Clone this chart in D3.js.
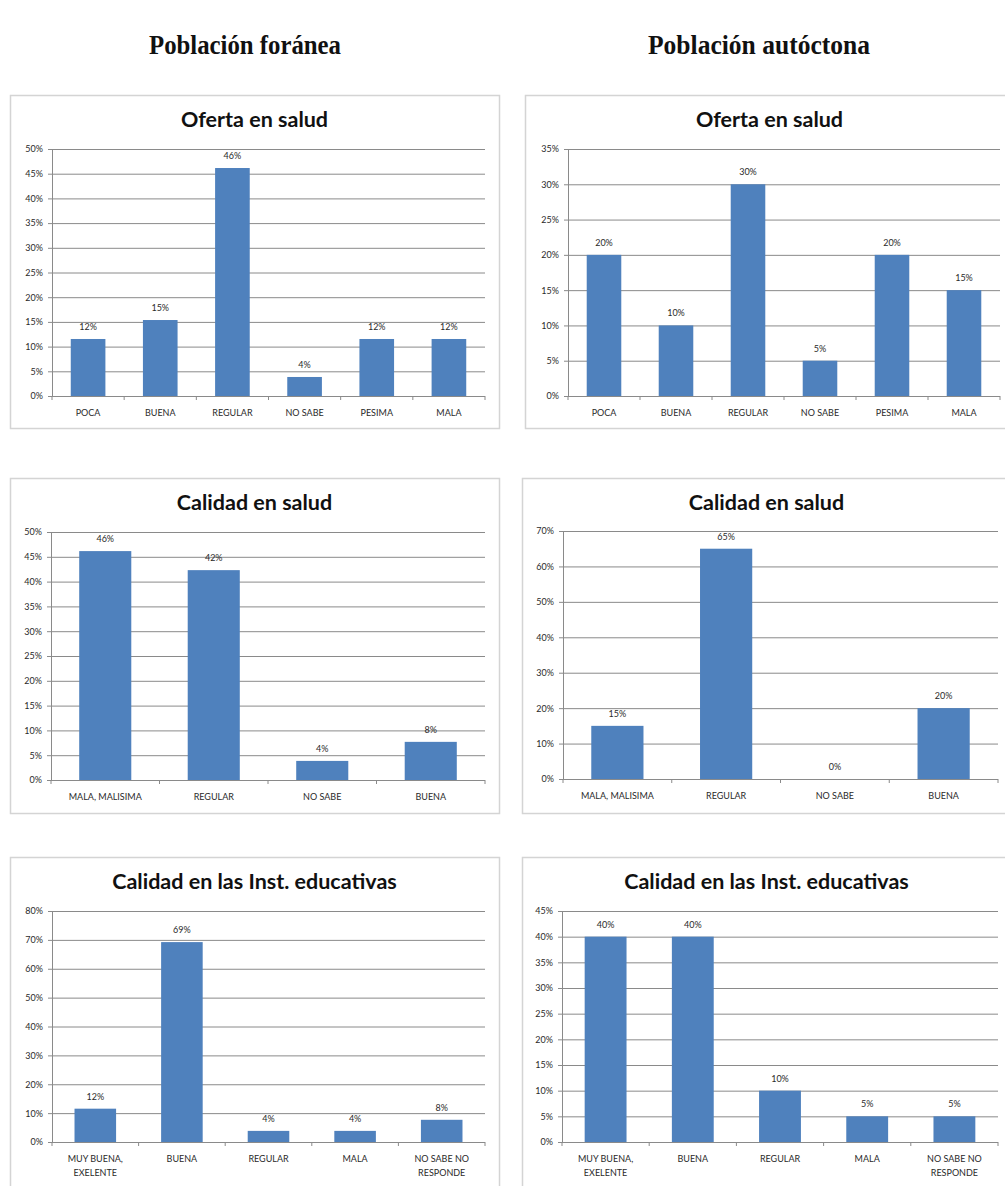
<!DOCTYPE html>
<html>
<head>
<meta charset="utf-8">
<script src="https://cdn.jsdelivr.net/npm/d3@7"></script>
<style>
  body { margin: 0; background: #fff; }
  svg { display: block; }
  .tick text { font-family: Lato, "Open Sans", sans-serif; }
</style>
</head>
<body>
<svg id="chart" width="1005" height="1186"></svg>
<script>
'use strict'

// column headers
var headers = ['Población foránea', 'Población autóctona']

// oferta en salud
var ofertaCats = ['POCA', 'BUENA', 'REGULAR', 'NO SABE', 'PESIMA', 'MALA']
var ofertaForanea = [11.54, 15.38, 46.15, 3.85, 11.54, 11.54]
var ofertaAutoctona = [20, 10, 30, 5, 20, 15]

// calidad en salud
var saludCats = ['MALA, MALISIMA', 'REGULAR', 'NO SABE', 'BUENA']
var saludForanea = [46.15, 42.31, 3.85, 7.69]
var saludAutoctona = [15, 65, 0, 20]

// calidad en las inst. educativas
var eduCats = ['MUY BUENA,\nEXELENTE', 'BUENA', 'REGULAR', 'MALA', 'NO SABE NO\nRESPONDE']
var eduForanea = [11.54, 69.23, 3.85, 3.85, 7.69]
var eduAutoctona = [40, 40, 10, 5, 5]

// y axis max / step per panel
var yMax = [50, 35, 50, 70, 80, 45]
var yStep = [5, 5, 5, 10, 10, 5]

var titles = ['Oferta en salud', 'Oferta en salud', 'Calidad en salud', 'Calidad en salud',
  'Calidad en las Inst. educativas', 'Calidad en las Inst. educativas']

var panels = [
  { cats: ofertaCats, vals: ofertaForanea, box: [10, 95, 489, 333], plot: [52, 149, 485, 396] },
  { cats: ofertaCats, vals: ofertaAutoctona, box: [525, 95, 489, 333], plot: [568, 149, 1000, 396] },
  { cats: saludCats, vals: saludForanea, box: [10, 478, 489, 335], plot: [51, 532, 485, 780] },
  { cats: saludCats, vals: saludAutoctona, box: [522, 478, 489, 335], plot: [563, 531, 998, 779] },
  { cats: eduCats, vals: eduForanea, box: [10, 857, 489, 340], plot: [52, 911, 485, 1142] },
  { cats: eduCats, vals: eduAutoctona, box: [522, 857, 489, 340], plot: [562, 911, 998, 1142] }
]

var svg = d3.select('#chart')
var barColour = '#4f81bd'
var gridColour = '#8a8a8a'
var textColour = '#2a2a2a'
var smallFont = '9px'

// headers
svg.selectAll('text.header')
  .data(headers)
  .enter().append('text')
  .attr('class', 'header')
  .attr('x', function(d, i) { return i == 0 ? 245 : 759 })
  .attr('y', 54)
  .attr('text-anchor', 'middle')
  .attr('textLength', function(d, i) { return i == 0 ? 192 : 222 })
  .attr('lengthAdjust', 'spacingAndGlyphs')
  .style('font-family', '"Liberation Serif", serif')
  .style('font-weight', 'bold')
  .style('font-size', '27px')
  .style('fill', '#111')
  .text(function(d) { return d })

panels.forEach(function(p, i) {
  var g = svg.append('g')

  // chart frame
  g.append('rect')
    .attr('x', p.box[0] + 0.5)
    .attr('y', p.box[1] + 0.5)
    .attr('width', p.box[2])
    .attr('height', p.box[3])
    .attr('fill', '#fff')
    .attr('stroke', '#d4d4d4')
    .attr('stroke-width', 1.5)

  g.append('text')
    .attr('x', p.box[0] + p.box[2] / 2)
    .attr('y', p.box[1] + 32)
    .attr('text-anchor', 'middle')
    .style('font-family', 'Lato, "Open Sans", sans-serif')
    .style('font-weight', 'bold')
    .style('font-size', '21.5px')
    .style('fill', '#111')
    .text(titles[i])

  var x = d3.scaleBand()
    .domain(p.cats)
    .range([p.plot[0], p.plot[2]])
    .paddingInner(0.52)
    .paddingOuter(0.26)

  var y = d3.scaleLinear()
    .domain([0, yMax[i]])
    .range([p.plot[3], p.plot[1]])

  var w = p.plot[2] - p.plot[0]

  // gridlines + y labels
  var yAxis = g.append('g')
    .attr('transform', 'translate(' + p.plot[0] + ',0)')
    .call(d3.axisLeft(y)
      .tickValues(d3.range(0, yMax[i] + yStep[i] / 2, yStep[i]))
      .tickSize(-w)
      .tickPadding(9)
      .tickFormat(function(d) { return d + '%' }))
  yAxis.select('.domain').attr('stroke', gridColour)
  yAxis.selectAll('.tick line')
    .attr('x1', -4)
    .attr('stroke', gridColour)
  yAxis.selectAll('.tick text')
    .style('font-size', smallFont)
    .style('fill', textColour)

  // x axis line with ticks between categories
  var xg = g.append('g')
  xg.append('line')
    .attr('x1', p.plot[0]).attr('x2', p.plot[2])
    .attr('y1', y(0) + 0.5).attr('y2', y(0) + 0.5)
    .attr('stroke', gridColour)
  xg.selectAll('line.sep')
    .data(d3.range(p.cats.length + 1))
    .enter().append('line')
    .attr('class', 'sep')
    .attr('x1', function(d) { return p.plot[0] + d * w / p.cats.length })
    .attr('x2', function(d) { return p.plot[0] + d * w / p.cats.length })
    .attr('y1', y(0))
    .attr('y2', y(0) + 4)
    .attr('stroke', gridColour)

  // category labels
  var lab = xg.selectAll('text.cat')
    .data(p.cats)
    .enter().append('text')
    .attr('class', 'cat')
    .attr('text-anchor', 'middle')
    .attr('x', function(d) { return x(d) + x.bandwidth() / 2 })
    .attr('y', y(0) + 20)
    .style('font-family', 'Lato, "Open Sans", sans-serif')
    .style('font-size', smallFont)
    .style('fill', textColour)
  lab.each(function(d) {
    var t = d3.select(this)
    d.split('\n').forEach(function(line, k) {
      t.append('tspan')
        .attr('x', x(d) + x.bandwidth() / 2)
        .attr('dy', k == 0 ? 0 : 14)
        .text(line)
    })
  })

  // bars
  g.selectAll('rect.bar')
    .data(p.vals)
    .enter().append('rect')
    .attr('class', 'bar')
    .attr('x', function(d, k) { return x(p.cats[k]) })
    .attr('width', x.bandwidth())
    .attr('y', function(d) { return y(d) })
    .attr('height', function(d) { return y(0) - y(d) })
    .attr('fill', barColour)

  // value labels
  g.selectAll('text.val')
    .data(p.vals)
    .enter().append('text')
    .attr('class', 'val')
    .attr('text-anchor', 'middle')
    .attr('x', function(d, k) { return x(p.cats[k]) + x.bandwidth() / 2 })
    .attr('y', function(d) { return y(d) - 9 })
    .style('font-family', 'Lato, "Open Sans", sans-serif')
    .style('font-size', smallFont)
    .style('fill', textColour)
    .text(function(d) { return Math.round(d) + '%' })
})
</script>
</body>
</html>
